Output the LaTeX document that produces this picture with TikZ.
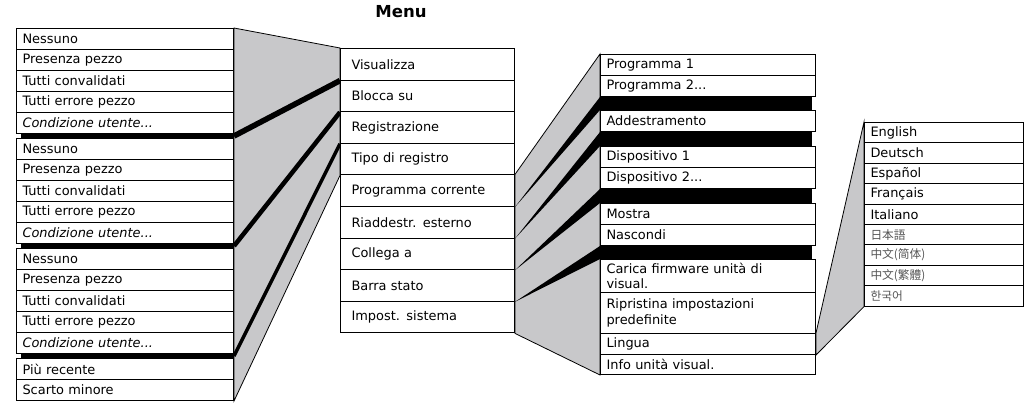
\documentclass[tikz,border=0pt]{standalone}
\usepackage{fontspec}
\setmainfont{DejaVu Sans}
\newfontfamily\jpfont{Noto Sans CJK JP}
\newfontfamily\scfont{Noto Sans CJK SC}
\newfontfamily\tcfont{Noto Sans CJK TC}
\newfontfamily\krfont{Noto Sans CJK KR}
\usetikzlibrary{calc,backgrounds}
\definecolor{fangray}{RGB}{200,200,202}
\definecolor{cjkgray}{RGB}{85,85,85}

\begin{document}
\begin{tikzpicture}[x=0.75pt,y=-0.75pt, every node/.style={font=\fontsize{9.7}{11.6}\selectfont}]
    \tikzset{lbox/.style={draw,fill=white,line width=0.75pt,anchor=north west,align=left,inner xsep=4.5pt,inner ysep=0pt,text width=153.75pt,minimum height=15.75pt}}
    \tikzset{mbox/.style={draw,fill=white,line width=0.75pt,anchor=north west,align=left,inner xsep=8.25pt,inner ysep=0pt,text width=114pt,minimum height=23.7pt}}
    \tikzset{rbox/.style={draw,fill=white,line width=0.75pt,anchor=north west,align=left,inner xsep=4.5pt,inner ysep=0pt,text width=152.25pt,minimum height=15.75pt}}
    \tikzset{langbox/.style={draw,fill=white,line width=0.75pt,anchor=north west,align=left,inner xsep=4.5pt,inner ysep=0pt,text width=110.25pt,minimum height=15.3pt}}
    \tikzset{cjk/.style={text=cjkgray,font=\fontsize{8.8}{10}\selectfont}}
    \tikzset{fan/.style={draw,fill=fangray,line width=0.6pt}}
    \useasboundingbox (0,0) rectangle (1028,403);

    % Title
    \node[font=\bfseries\fontsize{12.4}{14}\selectfont] (title) at (401,12) {Menu};

    % Left groups
    \foreach \g/\gy in {1/28,2/138,3/248} {
      \node[lbox] (l\g a) at (16,\gy) {Nessuno};
      \node[lbox] (l\g b) at (16,\gy+21) {Presenza pezzo};
      \node[lbox] (l\g c) at (16,\gy+42) {Tutti convalidati};
      \node[lbox] (l\g d) at (16,\gy+63) {Tutti errore pezzo};
      \node[lbox] (l\g e) at (16,\gy+84) {\itshape Condizione utente...};
    }
    \node[lbox] (l4a) at (16,358) {Più recente};
    \node[lbox] (l4b) at (16,379) {Scarto minore};

    % Menu
    \node[mbox] (vis) at (340,48) {Visualizza};
    \node[mbox] (blocca) at (340,79.6) {Blocca su};
    \node[mbox] (reg) at (340,111.2) {Registrazione};
    \node[mbox] (tipo) at (340,142.8) {Tipo di registro};
    \node[mbox] (prog) at (340,174.4) {Programma corrente};
    \node[mbox] (riadd) at (340,206) {Riaddestr. esterno};
    \node[mbox] (coll) at (340,237.6) {Collega a};
    \node[mbox] (barra) at (340,269.2) {Barra stato};
    \node[mbox] (impost) at (340,300.8) {Impost. sistema};

    % Right groups
    \node[rbox] (prog1) at (600,54) {Programma 1};
    \node[rbox] (prog2) at (600,75) {Programma 2...};
    \node[rbox] (addestr) at (600,110) {Addestramento};
    \node[rbox] (disp1) at (600,146) {Dispositivo 1};
    \node[rbox] (disp2) at (600,167) {Dispositivo 2...};
    \node[rbox] (mostra) at (600,203) {Mostra};
    \node[rbox] (nasc) at (600,224) {Nascondi};
    \node[rbox,minimum height=24.75pt] (carica) at (600,259) {Carica firmware unità di\\visual.};
    \node[rbox,minimum height=30.75pt] (ripr) at (600,292) {Ripristina impostazioni\\predefinite};
    \node[rbox] (lingua) at (600,333) {Lingua};
    \node[rbox,minimum height=15pt] (info) at (600,354) {Info unità visual.};

    % Languages
    \node[langbox] (en) at (864,122) {English};
    \node[langbox] (de) at (864,142.4) {Deutsch};
    \node[langbox] (es) at (864,162.8) {Español};
    \node[langbox] (fr) at (864,183.2) {Français};
    \node[langbox] (it) at (864,203.6) {Italiano};
    \node[langbox,cjk] (ja) at (864,224) {\jpfont 日本語};
    \node[langbox,cjk] (zhs) at (864,244.4) {\scfont 中文(简体)};
    \node[langbox,cjk] (zht) at (864,264.8) {\tcfont 中文(繁體)};
    \node[langbox,cjk] (ko) at (864,285.2) {\krfont 한국어};

    \begin{scope}[on background layer]
      % fans left
      \filldraw[fan] (l1a.north east) -- (vis.north west) -- (tipo.south west) -- (l4b.south east) -- cycle;
      \fill ([xshift=3.75pt]l1e.south west) rectangle (l2a.north east);
      \fill ([xshift=3.75pt]l2e.south west) rectangle (l3a.north east);
      \fill ([xshift=3.75pt]l3e.south west) rectangle (l4a.north east);
      \draw[line width=4.2pt] ($(l1e.south east)!0.5!(l2a.north east)$) -- (vis.south west);
      \draw[line width=3.4pt] ($(l2e.south east)!0.5!(l3a.north east)$) -- (blocca.south west);
      \draw[line width=2.6pt] ($(l3e.south east)!0.5!(l4a.north east)$) -- (reg.south west);

      % fans right
      \filldraw[fan] (prog.north east) -- (prog1.north west) -- (info.south west) -- (impost.south east) -- cycle;
      \fill (prog2.south west) rectangle ([xshift=-3pt]addestr.north east);
      \fill (addestr.south west) rectangle ([xshift=-3pt]disp1.north east);
      \fill (disp2.south west) rectangle ([xshift=-3pt]mostra.north east);
      \fill (nasc.south west) rectangle ([xshift=-3pt]carica.north east);
      \fill (prog.south east) -- (prog2.south west) -- (addestr.north west) -- cycle;
      \fill (riadd.south east) -- (addestr.south west) -- (disp1.north west) -- cycle;
      \fill (coll.south east) -- (disp2.south west) -- (mostra.north west) -- cycle;
      \fill (barra.south east) -- (nasc.south west) -- (carica.north west) -- cycle;

      % fan Lingua
      \filldraw[fan] (lingua.north east) -- (en.north west) -- (ko.south west) -- (lingua.south east) -- cycle;
    \end{scope}
\end{tikzpicture}
\end{document}
